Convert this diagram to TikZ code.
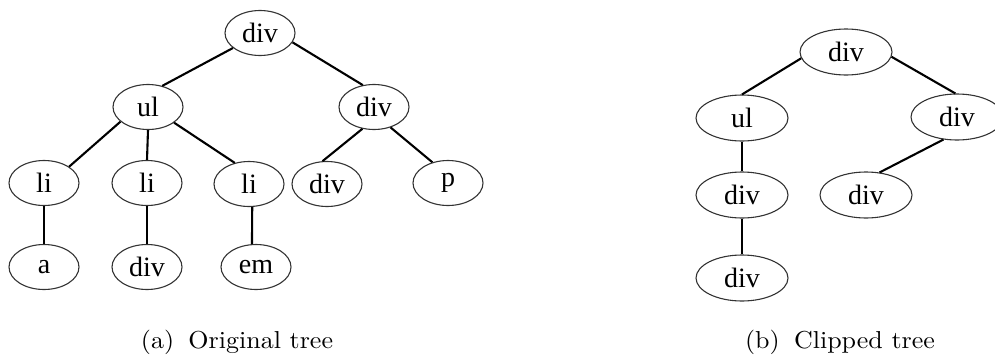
\documentclass[tikz,border=0pt]{standalone}
\usepackage{fontspec}
\usetikzlibrary{shapes.geometric}
\newfontfamily\nodefont{Liberation Serif}
\tikzset{
  tnode/.style={ellipse, draw=black!80, line width=1.1pt, inner sep=0pt,
    font=\fontsize{28}{30}\nodefont},
  lnode/.style={tnode, minimum width=70pt, minimum height=45pt},
  rnode/.style={tnode, minimum width=92pt, minimum height=46pt},
  conn/.style={draw=black, line width=2.1pt},
  captext/.style={anchor=base, inner sep=0pt}
}
\begin{document}
\begin{tikzpicture}[x=1pt,y=-1pt]
\useasboundingbox (0,0) rectangle (995,356);
% left tree
\node[lnode] (R)   at (260,33)  {div};
\node[lnode] (ul)  at (148,107) {ul};
\node[lnode] (d1)  at (374,107) {div};
\node[lnode] (li1) at (44,183)  {li};
\node[lnode] (li2) at (147,183) {li};
\node[lnode] (li3) at (249,184) {li};
\node[lnode] (d2)  at (327,184) {div};
\node[lnode] (p)   at (448,183) {p};
\node[lnode] (a)   at (44,267)  {a};
\node[lnode] (d3)  at (147,267) {div};
\node[lnode] (em)  at (256,267) {em};
\draw[conn] (R.209) -- (ul.56);
\draw[conn] (R.-16) -- (d1.117);
\draw[conn] (ul.208) -- (li1.33);
\draw[conn] (ul.south) -- (li2.north);
\draw[conn] (ul.-31) -- (li3.124);
\draw[conn] (d1.242) -- (d2.101);
\draw[conn] (d1.-51) -- (p.127);
\draw[conn] (li1.south) -- (a.north);
\draw[conn] (li2.south) -- (d3.north);
\draw[conn] (li3.-82) -- (em.100);
% right tree
\node[rnode] (R2)  at (846,52)  {div};
\node[rnode] (ul2) at (742,118) {ul};
\node[rnode] (dR)  at (957,117) {div};
\node[rnode] (dA)  at (742,195) {div};
\node[rnode] (dB)  at (742,278) {div};
\node[rnode] (dC)  at (866,195) {div};
\draw[conn] (R2.188) -- (ul2.north);
\draw[conn] (R2.-6) -- (dR.94);
\draw[conn] (ul2.south) -- (dA.north);
\draw[conn] (dA.south) -- (dB.north);
\draw[conn] (dR.239) -- (dC.59);
% captions
\node[captext] (capa) at (237,348) {\scalebox{2.6}[2.45]{(a)\hskip0.55em Original tree}};
\node[captext] (capb) at (840,348) {\scalebox{2.6}[2.45]{(b)\hskip0.55em Clipped tree}};
\end{tikzpicture}
\end{document}
